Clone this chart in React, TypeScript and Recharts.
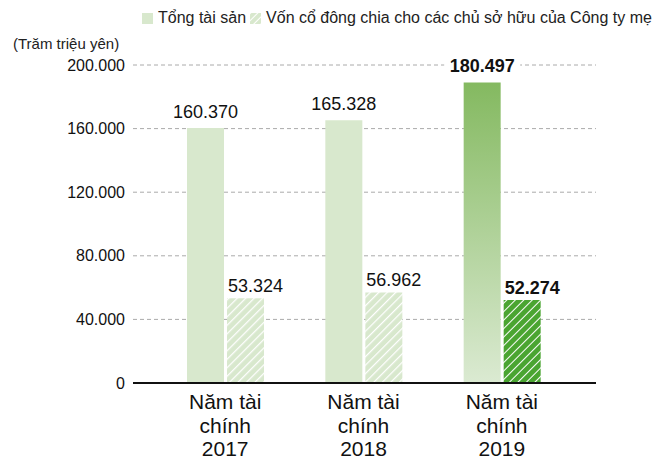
import React from 'react';
import { BarChart, Bar, XAxis, YAxis, CartesianGrid, LabelList, Cell } from 'recharts';

const YEARS = ['2017', '2018', '2019'];
// bar heights as drawn in the picture
const ASSETS = [160370, 165328, 189000];
const EQUITY = [53324, 56962, 52274];
// printed value labels
const ASSETS_LABELS = ['160.370', '165.328', '180.497'];
const EQUITY_LABELS = ['53.324', '56.962', '52.274'];
const Y_TICKS = [0, 40000, 80000, 120000, 160000, 200000];

const SERIES_NAMES = ['Tổng tài sản', 'Vốn cổ đông chia cho các chủ sở hữu của Công ty mẹ'];
const UNIT = '(Trăm triệu yên)';

const FONT = '"Liberation Sans", Arial, sans-serif';
const LIGHT = '#d8e8cd';

const data = YEARS.map((year, i) => ({
  year,
  assets: ASSETS[i],
  equity: EQUITY[i],
}));

const fmt = (v: number) => (v === 0 ? '0' : v.toLocaleString('de-DE'));

const YearTick = (props: any) => {
  const { x, y, payload } = props;
  return (
    <text x={x} y={y} textAnchor="middle" fill="#111" fontSize={21} fontFamily={FONT}>
      <tspan x={x} dy={26}>Năm tài</tspan>
      <tspan x={x} dy={24}>chính</tspan>
      <tspan x={x} dy={23}>{payload.value}</tspan>
    </text>
  );
};

const AssetsLabel = (props: any) => {
  const { x, y, width, index } = props;
  const cx = x + width / 2;
  const bold = index === 2;
  const ty = y - 10;
  return (
    <g>
      {bold && <rect x={cx - 38} y={ty - 15} width={76} height={17} fill="#fff" />}
      <text x={cx} y={ty} textAnchor="middle" fontSize={18} fontFamily={FONT}
        fontWeight={bold ? 700 : 400} fill="#111">
        {ASSETS_LABELS[index]}
      </text>
    </g>
  );
};

const EquityLabel = (props: any) => {
  const { x, y, index } = props;
  const bold = index === 2;
  return (
    <text x={x + 1} y={y - 6} textAnchor="start" fontSize={18} fontFamily={FONT}
      fontWeight={bold ? 700 : 400} fill="#111">
      {EQUITY_LABELS[index]}
    </text>
  );
};

const HatchSwatch = ({ id }: { id: string }) => (
  <svg width={11} height={11} style={{ display: 'block' }}>
    <defs>
      <pattern id={id} width={5} height={5} patternUnits="userSpaceOnUse" patternTransform="rotate(45)">
        <rect width={5} height={5} fill={LIGHT} />
        <line x1={0} y1={0} x2={0} y2={5} stroke="#fff" strokeWidth={2} />
      </pattern>
    </defs>
    <rect width={11} height={11} fill={`url(#${id})`} />
  </svg>
);

export default function App() {
  return (
    <div style={{ position: 'absolute', left: 0, top: 0, width: 653, height: 461, fontFamily: FONT, background: '#fff' }}>
      <div style={{ position: 'absolute', left: 142, top: 9, display: 'flex', alignItems: 'center', fontSize: 16, color: '#222', whiteSpace: 'nowrap' }}>
        <div style={{ width: 11, height: 11, background: LIGHT, marginRight: 5 }} />
        <span style={{ marginRight: 4 }}>{SERIES_NAMES[0]}</span>
        <div style={{ marginRight: 5 }}><HatchSwatch id="legendHatch" /></div>
        <span>{SERIES_NAMES[1]}</span>
      </div>
      <div style={{ position: 'absolute', left: 13, top: 35, fontSize: 15, color: '#222' }}>{UNIT}</div>
      <BarChart width={653} height={461} data={data} margin={{ top: 65, right: 57, left: 0, bottom: 0 }}
        barSize={37} barGap={3}>
        <defs>
          <linearGradient id="assetsGrad" x1="0" y1="0" x2="0" y2="1">
            <stop offset="0%" stopColor="#84b960" />
            <stop offset="100%" stopColor="#dbead2" />
          </linearGradient>
          <pattern id="hatchLight" width={6} height={6} patternUnits="userSpaceOnUse" patternTransform="rotate(45)">
            <rect width={6} height={6} fill={LIGHT} />
            <line x1={0} y1={0} x2={0} y2={6} stroke="#fff" strokeWidth={2.5} />
          </pattern>
          <pattern id="hatchDark" width={6} height={6} patternUnits="userSpaceOnUse" patternTransform="rotate(45)">
            <rect width={6} height={6} fill="#4aa531" />
            <line x1={0} y1={0} x2={0} y2={6} stroke="#fff" strokeWidth={2} />
          </pattern>
        </defs>
        <CartesianGrid vertical={false} stroke="#aaa" strokeDasharray="4 3" />
        <XAxis dataKey="year" height={78} padding={{ left: 23, right: 25 }} tickLine={false}
          tickSize={0} tickMargin={0} axisLine={{ stroke: '#111', strokeWidth: 2 }} tick={<YearTick />}
          interval={0} />
        <YAxis width={133} domain={[0, 200000]} ticks={Y_TICKS} tickFormatter={fmt} axisLine={false}
          tickLine={false} tickSize={0} tickMargin={8}
          tick={{ fill: '#111', fontSize: 16, fontFamily: FONT }} />
        <Bar dataKey="assets" isAnimationActive={false}>
          {data.map((d, i) => (
            <Cell key={d.year} fill={i === 2 ? 'url(#assetsGrad)' : LIGHT} />
          ))}
          <LabelList dataKey="assets" content={<AssetsLabel />} />
        </Bar>
        <Bar dataKey="equity" isAnimationActive={false}>
          {data.map((d, i) => (
            <Cell key={d.year} fill={i === 2 ? 'url(#hatchDark)' : 'url(#hatchLight)'} />
          ))}
          <LabelList dataKey="equity" content={<EquityLabel />} />
        </Bar>
      </BarChart>
    </div>
  );
}
